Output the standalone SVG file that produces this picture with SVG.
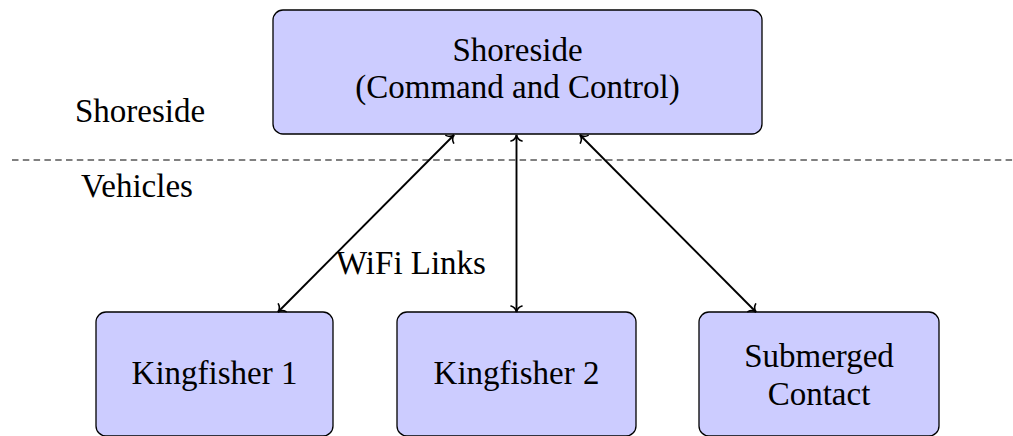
<svg xmlns="http://www.w3.org/2000/svg" width="1013" height="436" viewBox="0 0 1013 436">
  <style>
    .node rect { fill: #ccccff; stroke: #000; stroke-width: 1.3; }
    text { font-family: "Liberation Serif", "DejaVu Serif", serif; font-size: 33px; fill: #000; text-anchor: middle; }
    .conn line { stroke: #000; stroke-width: 1.9; fill: none; }
    .divider { stroke: #808080; stroke-width: 1.8; stroke-dasharray: 6.5 4.3; }
  </style>
  <defs>
    <marker id="to" markerUnits="userSpaceOnUse" markerWidth="16" markerHeight="16" viewBox="-8 -8 16 16" refX="0" refY="0" orient="auto-start-reverse" overflow="visible">
      <path d="M -6,-5.5 C -5,-2 -1.8,-0.4 0,0 C -1.8,0.4 -5,2 -6,5.5" fill="none" stroke="#000" stroke-width="1.6" stroke-linecap="round"/>
    </marker>
  </defs>
  <line class="divider" x1="12" y1="160" x2="1013" y2="160"/>
  <text x="140" y="122">Shoreside</text>
  <text x="137" y="197">Vehicles</text>
  <g id="shoreside" class="node">
    <rect x="273" y="10" width="489" height="124" rx="10" ry="10"/>
    <text x="517.5" y="61">Shoreside</text>
    <text x="517.5" y="98">(Command and Control)</text>
  </g>
  <g id="kingfisher1" class="node">
    <rect x="96" y="312" width="237" height="124" rx="10" ry="10"/>
    <text x="214.5" y="384">Kingfisher 1</text>
  </g>
  <g id="kingfisher2" class="node">
    <rect x="397" y="312" width="239" height="124" rx="10" ry="10"/>
    <text x="516.5" y="384">Kingfisher 2</text>
  </g>
  <g id="submerged" class="node">
    <rect x="699" y="312" width="240" height="124" rx="10" ry="10"/>
    <text x="819" y="367">Submerged</text>
    <text x="819" y="405">Contact</text>
  </g>
  <g id="connectors" class="conn">
    <line x1="278" y1="312" x2="454" y2="135" marker-start="url(#to)" marker-end="url(#to)"/>
    <line x1="516.5" y1="312" x2="516.5" y2="135" marker-start="url(#to)" marker-end="url(#to)"/>
    <line x1="756" y1="312" x2="580" y2="135" marker-start="url(#to)" marker-end="url(#to)"/>
    <text x="411" y="274">WiFi Links</text>
  </g>
</svg>
